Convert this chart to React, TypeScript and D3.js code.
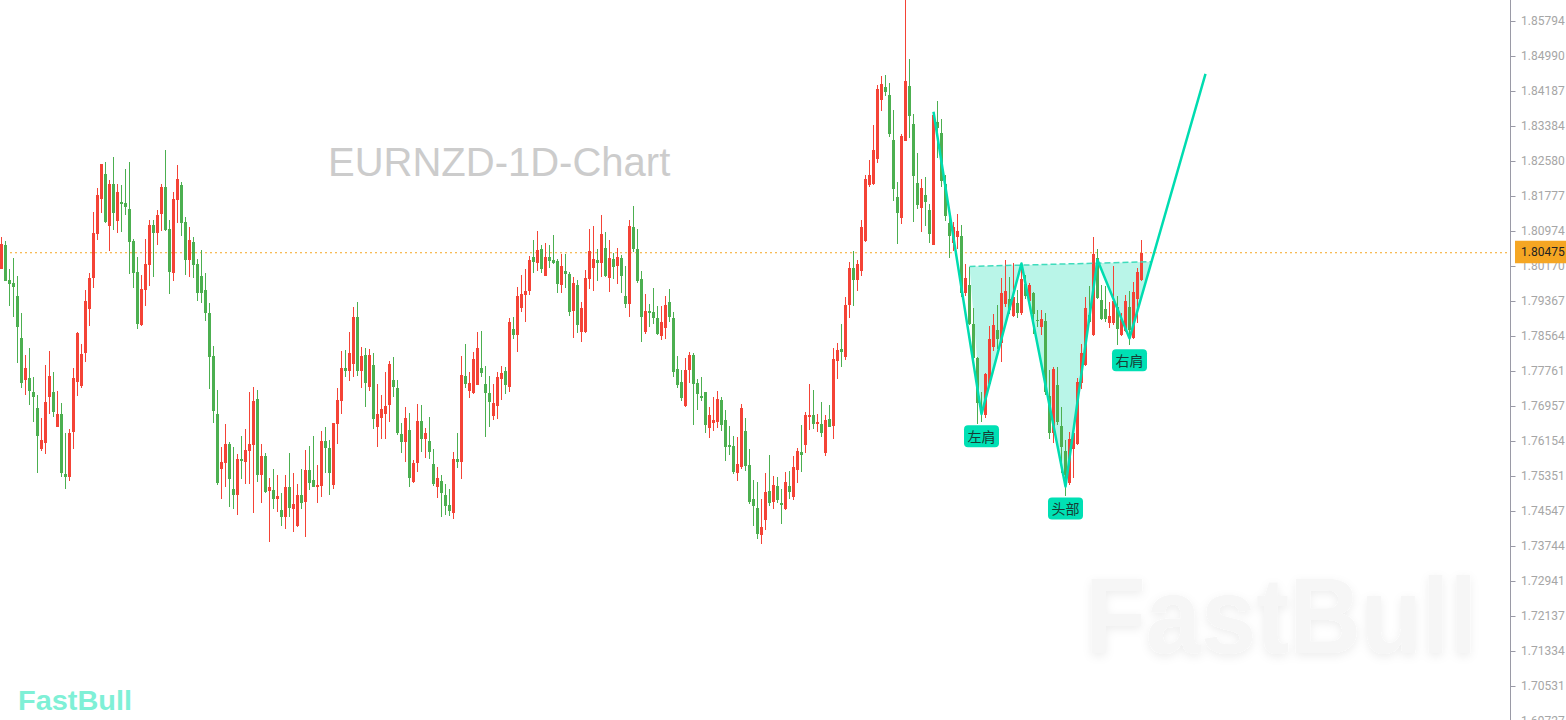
import React from "react";
import * as d3 from "d3";

// ---- data (EURNZD daily candles) ----
const opens = [
1.8010,1.8065,1.7985,1.7978,1.7948,1.7852,1.7755,1.7760,1.7728,1.7691,
1.7597,1.7611,1.7716,1.7728,1.7648,1.7677,1.7540,1.7533,1.7636,1.7751,
1.7742,1.7817,1.7918,1.7990,1.8091,1.8171,1.8228,1.8109,1.8205,1.8120,
1.8164,1.8162,1.8148,1.8074,1.8003,1.7882,1.7962,1.8019,1.8111,1.8093,
1.8136,1.8198,1.8102,1.8001,1.8169,1.8203,1.8118,1.8031,1.8072,1.8022,
1.7994,1.7962,1.7909,1.7811,1.7677,1.7551,1.7565,1.7609,1.7505,1.7492,
1.7574,1.7567,1.7592,1.7606,1.7712,1.7537,1.7581,1.7501,1.7503,1.7482,
1.7457,1.7441,1.7510,1.7459,1.7420,1.7492,1.7475,1.7549,1.7526,1.7510,
1.7512,1.7615,1.7599,1.7514,1.7654,1.7707,1.7783,1.7776,1.7792,1.7900,
1.7776,1.7813,1.7739,1.7790,1.7648,1.7668,1.7677,1.7698,1.7755,1.7737,
1.7632,1.7613,1.7641,1.7521,1.7565,1.7661,1.7620,1.7615,1.7563,1.7510,
1.7524,1.7492,1.7469,1.7450,1.7574,1.7567,1.7765,1.7730,1.7726,1.7744,
1.7783,1.7746,1.7726,1.7673,1.7696,1.7758,1.7776,1.7739,1.7872,1.7859,
1.7921,1.7950,1.7960,1.8038,1.8024,1.8056,1.7994,1.8038,1.8031,1.8029,
1.7973,1.8006,1.7999,1.7914,1.7973,1.7866,1.7866,1.7987,1.8012,1.8031,
1.8024,1.8058,1.7990,1.8033,1.8017,1.8035,1.7948,1.7930,1.8107,1.8056,
1.7987,1.7866,1.7914,1.7912,1.7898,1.7856,1.7875,1.7934,1.7898,1.7781,
1.7751,1.7696,1.7778,1.7813,1.7749,1.7719,1.7728,1.7645,1.7657,1.7659,
1.7710,1.7664,1.7606,1.7604,1.7542,1.7556,1.7638,1.7560,1.7482,1.7462,
1.7400,1.7434,1.7501,1.7475,1.7512,1.7473,1.7459,1.7512,1.7487,1.7549,
1.7590,1.7606,1.7671,1.7675,1.7654,1.7654,1.7588,1.7666,1.7650,1.7799,
1.7827,1.7808,1.7928,1.8012,1.7985,1.8006,1.8074,1.8203,1.8205,1.8263,
1.8398,1.8428,1.8410,1.8306,1.8175,1.8127,1.8304,1.8430,1.8343,1.8208,
1.8150,1.8180,1.8146,1.8065,1.8348,1.8322,1.8205,1.8116,1.8070,1.8084,
1.8086,1.7955,1.7973,1.7884,1.7806,1.7687,1.7675,1.7746,1.7831,1.7870,
1.7840,1.7930,1.7941,1.7902,1.7932,1.7909,1.7976,1.7937,1.7955,1.7893,
1.7877,1.7891,1.7719,1.7634,1.7744,1.7650,1.7592,1.7519,1.7597,1.7609,
1.7749,1.7790,1.7905,1.7859,1.8035,1.7939,1.7918,1.7886,1.7886,1.7923,
1.7859,1.7868,1.7923,1.7852,1.7941,1.7985];

const highs = [
1.8084,1.8074,1.8010,1.8035,1.7994,1.7909,1.7813,1.7829,1.7762,1.7721,
1.7668,1.7790,1.7822,1.7774,1.7730,1.7703,1.7634,1.7643,1.7783,1.7866,
1.7838,1.7962,1.8001,1.8141,1.8196,1.8251,1.8256,1.8214,1.8267,1.8205,
1.8203,1.8240,1.8256,1.8079,1.8038,1.7996,1.8079,1.8123,1.8123,1.8146,
1.8205,1.8283,1.8123,1.8187,1.8249,1.8210,1.8130,1.8107,1.8084,1.8033,
1.8054,1.8001,1.7932,1.7833,1.7732,1.7602,1.7654,1.7613,1.7602,1.7586,
1.7627,1.7643,1.7728,1.7739,1.7732,1.7609,1.7588,1.7531,1.7551,1.7537,
1.7496,1.7537,1.7588,1.7542,1.7517,1.7551,1.7595,1.7604,1.7627,1.7560,
1.7638,1.7648,1.7618,1.7657,1.7737,1.7822,1.7824,1.7866,1.7923,1.7934,
1.7831,1.7829,1.7827,1.7817,1.7746,1.7721,1.7774,1.7799,1.7808,1.7755,
1.7657,1.7693,1.7680,1.7572,1.7700,1.7698,1.7645,1.7671,1.7597,1.7556,
1.7537,1.7517,1.7505,1.7590,1.7634,1.7811,1.7838,1.7774,1.7820,1.7866,
1.7868,1.7788,1.7765,1.7746,1.7774,1.7788,1.7785,1.7898,1.7900,1.7969,
1.7996,1.8010,1.8040,1.8077,1.8097,1.8065,1.8070,1.8065,1.8088,1.8033,
1.8045,1.8045,1.8003,1.7992,1.7985,1.7934,1.8008,1.8102,1.8109,1.8056,
1.8134,1.8095,1.8077,1.8047,1.8058,1.8042,1.8017,1.8123,1.8155,1.8102,
1.8006,1.7953,1.7930,1.7967,1.7925,1.7925,1.7948,1.7964,1.7912,1.7811,
1.7778,1.7806,1.7820,1.7817,1.7758,1.7762,1.7728,1.7693,1.7716,1.7730,
1.7716,1.7687,1.7650,1.7627,1.7625,1.7700,1.7668,1.7597,1.7526,1.7521,
1.7482,1.7542,1.7583,1.7535,1.7533,1.7505,1.7544,1.7547,1.7581,1.7599,
1.7652,1.7682,1.7746,1.7732,1.7677,1.7705,1.7675,1.7698,1.7829,1.7840,
1.7884,1.7946,1.8026,1.8052,1.8031,1.8123,1.8226,1.8260,1.8341,1.8433,
1.8453,1.8455,1.8437,1.8375,1.8210,1.8320,1.8628,1.8492,1.8366,1.8276,
1.8217,1.8221,1.8159,1.8364,1.8396,1.8354,1.8226,1.8127,1.8118,1.8136,
1.8111,1.8022,1.8015,1.7921,1.7808,1.7728,1.7771,1.7879,1.7907,1.7928,
1.7990,1.8031,1.7992,1.8024,1.7962,1.8024,1.7996,1.7978,1.7957,1.7916,
1.7916,1.7909,1.7778,1.7785,1.7785,1.7693,1.7618,1.7636,1.7645,1.7760,
1.7838,1.7946,1.7971,1.8084,1.8056,1.7973,1.7971,1.7934,1.8017,1.7948,
1.7909,1.7950,1.7960,1.7980,1.8012,1.8077];

const lows = [
1.8010,1.7983,1.7925,1.7900,1.7794,1.7737,1.7721,1.7698,1.7659,1.7542,
1.7592,1.7586,1.7677,1.7671,1.7648,1.7533,1.7505,1.7524,1.7597,1.7719,
1.7737,1.7797,1.7879,1.7967,1.8077,1.8139,1.8116,1.8052,1.8100,1.8093,
1.8095,1.8134,1.7999,1.7967,1.7872,1.7879,1.7925,1.7971,1.7992,1.8065,
1.8097,1.8097,1.7953,1.7983,1.8116,1.8086,1.7996,1.7992,1.7990,1.7937,
1.7932,1.7891,1.7735,1.7657,1.7514,1.7482,1.7510,1.7464,1.7459,1.7446,
1.7528,1.7517,1.7517,1.7450,1.7521,1.7473,1.7496,1.7384,1.7459,1.7452,
1.7420,1.7413,1.7441,1.7407,1.7418,1.7459,1.7395,1.7503,1.7510,1.7473,
1.7487,1.7542,1.7492,1.7505,1.7609,1.7677,1.7762,1.7753,1.7762,1.7765,
1.7737,1.7693,1.7730,1.7643,1.7602,1.7620,1.7620,1.7659,1.7716,1.7629,
1.7588,1.7567,1.7510,1.7519,1.7544,1.7590,1.7576,1.7574,1.7512,1.7485,
1.7441,1.7446,1.7443,1.7436,1.7553,1.7528,1.7737,1.7714,1.7723,1.7744,
1.7762,1.7625,1.7648,1.7664,1.7666,1.7710,1.7723,1.7728,1.7850,1.7820,
1.7912,1.7889,1.7950,1.8001,1.8006,1.8001,1.7994,1.8012,1.8022,1.7955,
1.7955,1.7967,1.7902,1.7852,1.7863,1.7843,1.7863,1.7964,1.7960,1.7983,
1.7992,1.7992,1.7957,1.7987,1.7976,1.7955,1.7921,1.7900,1.8049,1.7978,
1.7843,1.7861,1.7877,1.7884,1.7859,1.7847,1.7850,1.7889,1.7762,1.7737,
1.7707,1.7693,1.7749,1.7652,1.7687,1.7707,1.7634,1.7622,1.7638,1.7645,
1.7638,1.7570,1.7583,1.7540,1.7524,1.7551,1.7547,1.7471,1.7420,1.7390,
1.7379,1.7411,1.7466,1.7459,1.7473,1.7425,1.7457,1.7482,1.7480,1.7519,
1.7544,1.7588,1.7641,1.7643,1.7636,1.7625,1.7581,1.7648,1.7620,1.7758,
1.7785,1.7801,1.7898,1.7925,1.7960,1.7994,1.8072,1.8198,1.8203,1.8254,
1.8373,1.8407,1.8313,1.8166,1.8068,1.8114,1.8304,1.8311,1.8118,1.8148,
1.8095,1.8109,1.8070,1.8065,1.8265,1.8198,1.8120,1.8035,1.8052,1.8056,
1.7946,1.7948,1.7882,1.7804,1.7654,1.7659,1.7668,1.7744,1.7822,1.7827,
1.7797,1.7923,1.7907,1.7900,1.7898,1.7905,1.7941,1.7934,1.7861,1.7877,
1.7859,1.7721,1.7620,1.7611,1.7652,1.7542,1.7489,1.7514,1.7531,1.7606,
1.7735,1.7788,1.7886,1.7856,1.7941,1.7893,1.7889,1.7875,1.7882,1.7836,
1.7856,1.7866,1.7836,1.7850,1.7886,1.7983];

const closes = [
1.8068,1.7983,1.7976,1.7969,1.7877,1.7749,1.7783,1.7730,1.7716,1.7627,
1.7618,1.7705,1.7765,1.7682,1.7677,1.7542,1.7533,1.7634,1.7760,1.7863,
1.7815,1.7937,1.7990,1.8093,1.8180,1.8251,1.8118,1.8205,1.8139,1.8187,
1.8159,1.8153,1.8072,1.8001,1.7884,1.7964,1.8022,1.8111,1.8093,1.8134,
1.8198,1.8100,1.8003,1.8171,1.8217,1.8116,1.8031,1.8077,1.8019,1.7955,
1.7955,1.7909,1.7808,1.7684,1.7519,1.7567,1.7609,1.7528,1.7492,1.7574,
1.7570,1.7595,1.7609,1.7707,1.7537,1.7581,1.7498,1.7510,1.7482,1.7489,
1.7441,1.7510,1.7462,1.7471,1.7492,1.7473,1.7549,1.7519,1.7510,1.7514,
1.7615,1.7599,1.7542,1.7657,1.7710,1.7783,1.7776,1.7817,1.7900,1.7776,
1.7811,1.7749,1.7813,1.7666,1.7677,1.7689,1.7696,1.7792,1.7739,1.7634,
1.7613,1.7668,1.7531,1.7565,1.7661,1.7620,1.7634,1.7590,1.7517,1.7531,
1.7496,1.7466,1.7455,1.7574,1.7567,1.7767,1.7746,1.7749,1.7804,1.7829,
1.7771,1.7726,1.7705,1.7703,1.7762,1.7771,1.7744,1.7889,1.7859,1.7948,
1.7953,1.7960,1.8031,1.8026,1.8054,1.8010,1.8038,1.8029,1.8024,1.7976,
1.8017,1.7999,1.7912,1.7978,1.7882,1.7921,1.7990,1.8052,1.8033,1.8024,
1.8091,1.7994,1.8035,1.8015,1.8038,1.7994,1.7930,1.8109,1.8056,1.7983,
1.7900,1.7914,1.7909,1.7898,1.7861,1.7889,1.7928,1.7900,1.7774,1.7744,
1.7714,1.7778,1.7813,1.7746,1.7723,1.7714,1.7652,1.7675,1.7664,1.7712,
1.7652,1.7602,1.7602,1.7544,1.7563,1.7691,1.7558,1.7475,1.7466,1.7402,
1.7418,1.7498,1.7473,1.7514,1.7480,1.7469,1.7521,1.7498,1.7556,1.7592,
1.7583,1.7675,1.7675,1.7654,1.7659,1.7634,1.7664,1.7648,1.7804,1.7824,
1.7820,1.7928,1.8012,1.7985,1.8022,1.8107,1.8217,1.8226,1.8283,1.8423,
1.8435,1.8416,1.8320,1.8194,1.8139,1.8315,1.8442,1.8361,1.8224,1.8157,
1.8196,1.8164,1.8091,1.8364,1.8334,1.8212,1.8132,1.8086,1.8107,1.8097,
1.7955,1.7990,1.7884,1.7806,1.7703,1.7680,1.7769,1.7850,1.7882,1.7850,
1.7955,1.7960,1.7916,1.7946,1.7909,1.7987,1.7948,1.7973,1.7907,1.7891,
1.7895,1.7728,1.7634,1.7781,1.7659,1.7602,1.7537,1.7620,1.7634,1.7751,
1.7817,1.7921,1.7889,1.8045,1.7944,1.7895,1.7895,1.7902,1.7937,1.7872,
1.7895,1.7937,1.7870,1.7957,1.8003,1.80475];

const yTicks = [1.85794,1.8499,1.84187,1.83384,1.8258,1.81777,1.80974,1.8017,1.79367,1.78564,
1.77761,1.76957,1.76154,1.75351,1.74547,1.73744,1.72941,1.72137,1.71334,1.70531,1.69727];

const lastPrice = 1.80475;

// inverse head & shoulders pattern (candle index, price)
const patternIdx = [233, 245, 255, 266, 274, 282, 301];
const patternPrice = [1.8371, 1.7677, 1.8023, 1.7511, 1.8031, 1.7851, 1.8458];
const neckIdx = [242, 287.5];
const neckPrice = [1.8016, 1.8027];
const labelText = ["左肩", "头部", "右肩"];
const labelPoint = [1, 3, 5];

const title = "EURNZD-1D-Chart";
const brand = "FastBull";

const W = 1566, H = 720;
const UP = "#f44336", DOWN = "#4caf50";
const TEAL = "#00dcb0";

export default function App() {
  const x = d3.scaleLinear().domain([0, 285]).range([1.5, 1141.5]);
  const y = d3.scaleLinear().domain([1.85794, 1.70531]).range([21, 686]);

  const pts: [number, number][] = patternIdx.map((d, i) => [x(d), y(patternPrice[i])]);
  const zig = d3.line()(pts) as string;
  const neck: [number, number][] = neckIdx.map((d, i) => [x(d), y(neckPrice[i])]);
  const fillPts: [number, number][] = [neck[0], pts[1], pts[2], pts[3], pts[4], pts[5], neck[1]];
  const fillPath = (d3.line()(fillPts) as string) + "Z";

  const fmt = d3.format(".5f");
  const axisX = 1510.5;
  const py = y(lastPrice);

  return (
    <svg width={W} height={H} style={{ position: "fixed", left: 0, top: 0, background: "#fff" }}
      xmlns="http://www.w3.org/2000/svg">
      <defs>
        <filter id="wm" x="-10%" y="-20%" width="120%" height="150%">
          <feDropShadow dx="0" dy="3" stdDeviation="5" floodColor="#000" floodOpacity="0.07" />
        </filter>
      </defs>
      <rect width={W} height={H} fill="#fff" />

      {/* watermark */}
      <text x={1085} y={653} fontFamily="'Liberation Sans', Arial, sans-serif" fontWeight="bold"
        fontSize={108} fill="#f6f6f6" textLength={392} lengthAdjust="spacingAndGlyphs" filter="url(#wm)">
        {brand}
      </text>

      {/* title */}
      <text x={328} y={176} fontFamily="'Liberation Sans', Arial, sans-serif" fontSize={40} fill="#cccccc">
        {title}
      </text>

      {/* pattern fill */}
      <path d={fillPath} fill="#b9f5e8" stroke="none" />

      {/* current price line */}
      <line x1={0} x2={axisX} y1={py} y2={py} stroke="#f5a623" strokeWidth={1} strokeDasharray="2 3" />

      {/* candles */}
      <g>
        {opens.map((o, i) => {
          const c = closes[i];
          const up = c >= o;
          const col = up ? UP : DOWN;
          const cx = x(i);
          const yTop = Math.round(y(Math.max(o, c)));
          const yBot = Math.round(y(Math.min(o, c)));
          const yh = Math.round(y(highs[i]));
          const yl = Math.round(y(lows[i]));
          return (
            <g key={i}>
              <rect x={cx - 0.5} y={yh} width={1} height={Math.max(1, yl - yh)} fill={col} />
              <rect x={cx - 1.5} y={yTop} width={3} height={Math.max(1, yBot - yTop)} fill={col} />
            </g>
          );
        })}
      </g>

      {/* neckline */}
      <line x1={neck[0][0]} y1={neck[0][1]} x2={neck[1][0]} y2={neck[1][1]}
        stroke="#3fdcbc" strokeWidth={1.5} strokeDasharray="6 3" />
      {/* zigzag */}
      <path d={zig} fill="none" stroke={TEAL} strokeWidth={2.5} strokeLinejoin="round" />

      {/* labels */}
      {labelText.map((t, k) => {
        const [lx, ly] = pts[labelPoint[k]];
        return (
          <g key={t}>
            <rect x={lx - 17.5} y={ly + 11} width={35} height={22} rx={4} fill="#00e0b4" />
            <text x={lx} y={ly + 22} textAnchor="middle" dominantBaseline="central"
              fontFamily="'Noto Sans CJK SC', sans-serif" fontSize={14} fill="#173d35">{t}</text>
          </g>
        );
      })}

      {/* right axis */}
      <line x1={axisX} x2={axisX} y1={0} y2={H} stroke="#9a9aa6" strokeWidth={1} />
      {yTicks.map((t) => (
        <g key={t}>
          <line x1={axisX} x2={axisX + 5} y1={Math.round(y(t)) + 0.5} y2={Math.round(y(t)) + 0.5} stroke="#9a9aa6" />
          <text x={1521} y={y(t)} dominantBaseline="central" fontFamily="Roboto, sans-serif"
            fontSize={12} fill="#a6a6a6">{fmt(t)}</text>
        </g>
      ))}
      <rect x={1515} y={py - 12} width={51} height={22.5} fill="#f5a623" />
      <text x={1521} y={py - 1} dominantBaseline="central" fontFamily="Roboto, sans-serif"
        fontSize={12} fill="#222">{fmt(lastPrice)}</text>

      {/* bottom-left logo */}
      <text x={18} y={710} fontFamily="'Liberation Sans', Arial, sans-serif" fontWeight="bold"
        fontSize={28} fill="#7ff0d6" textLength={114} lengthAdjust="spacingAndGlyphs">{brand}</text>
    </svg>
  );
}
